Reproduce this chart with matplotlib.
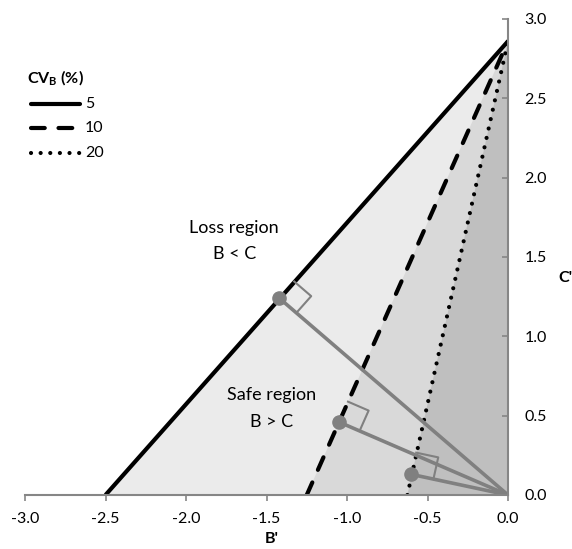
import numpy as np
import matplotlib
matplotlib.use('Agg')
import matplotlib.pyplot as plt
from matplotlib.lines import Line2D

plt.rcParams['font.family'] = ['Lato', 'DejaVu Sans']
plt.rcParams['mathtext.fontset'] = 'custom'
plt.rcParams['mathtext.rm'] = 'Lato'
plt.rcParams['mathtext.bf'] = 'Lato:bold'

# chart data
cv_labels = ['5', '10', '20']
b_intercept = [-2.5, -1.25, -0.625]     # where each line meets C'=0
c_intercept = [2.86, 2.86, 2.86]        # where each line meets B'=0
foot_b = [-1.42, -1.05, -0.60]          # perpendicular foot points
foot_c = [1.24, 0.46, 0.13]
x_ticks = [-3.0, -2.5, -2.0, -1.5, -1.0, -0.5, 0.0]
y_ticks = [0.0, 0.5, 1.0, 1.5, 2.0, 2.5, 3.0]

fill_colors = ['#ebebeb', '#d9d9d9', '#bfbfbf']
line_styles = ['-', (0, (3.3, 3.3)), (0, (0.01, 2.3))]
gray = '#808080'

fig = plt.figure(figsize=(5.72, 5.49), dpi=100)
ax = fig.add_axes([25/572, 54/549, 483/572, 476/549])

# shaded triangles, widest first
for a, h, col in zip(b_intercept, c_intercept, fill_colors):
    ax.fill([a, 0, 0], [0, h, 0], color=col, lw=0, zorder=1)

for a, h, ls in zip(b_intercept, c_intercept, line_styles):
    ax.plot([a, 0], [0, h], color='black', lw=3, ls=ls,
            dash_capstyle='round', solid_capstyle='butt', zorder=3)

# perpendiculars from the origin with right angle marks
s = 0.14
for a, h, fb, fc in zip(b_intercept, c_intercept, foot_b, foot_c):
    ax.plot([fb, 0], [fc, 0], color=gray, lw=2.6, zorder=4)
    u = np.array([-a, h]) / np.hypot(a, h)
    v = -np.array([fb, fc]) / np.hypot(fb, fc)
    f = np.array([fb, fc])
    pts = np.array([f + s*u, f + s*u + s*v, f + s*v])
    ax.plot(pts[:, 0], pts[:, 1], color=gray, lw=1.5, zorder=4)
    ax.plot(fb, fc, 'o', color=gray, ms=9.5, zorder=5)

ax.text(-1.7, 1.68, 'Loss region', ha='center', va='center', fontsize=13)
ax.text(-1.7, 1.52, 'B < C', ha='center', va='center', fontsize=13)
ax.text(-1.47, 0.63, 'Safe region', ha='center', va='center', fontsize=13)
ax.text(-1.47, 0.46, 'B > C', ha='center', va='center', fontsize=13)

ax.set_xlim(-3.0, 0.0)
ax.set_ylim(0.0, 3.0)
ax.set_xticks(x_ticks)
ax.set_yticks(y_ticks)
ax.set_xticklabels(['%.1f' % t for t in x_ticks])
ax.set_yticklabels(['%.1f' % t for t in y_ticks])

for side in ['top', 'left']:
    ax.spines[side].set_visible(False)
for side in ['bottom', 'right']:
    ax.spines[side].set_color('#868686')
    ax.spines[side].set_linewidth(1.5)
    ax.spines[side].set_zorder(6)

ax.yaxis.tick_right()
ax.yaxis.set_label_position('right')
ax.tick_params(axis='x', direction='out', length=4, width=1.2, color='#868686',
               labelsize=11.5, pad=8)
ax.tick_params(axis='y', direction='in', length=4, width=1.2, color='#868686',
               labelsize=11.5, pad=12)

ax.set_xlabel("B'", fontsize=11.5, fontweight='bold')
ax.xaxis.set_label_coords(0.51, -0.078)
ax.set_ylabel("C'", fontsize=11.5, fontweight='bold', rotation=0, va='center')
ax.yaxis.set_label_coords(1.118, 0.455)

# hand drawn legend in the upper left
W, H = 572.0, 549.0
fig.text(27/W, 1-78/H, r'$\mathbf{CV_B}$' + ' (%)', fontsize=11.5,
         fontweight='bold', va='center', ha='left')
leg_y = [104, 128, 153]
for lab, ls, y in zip(cv_labels, line_styles, leg_y):
    fig.add_artist(Line2D([31/W, 80/W], [1-y/H, 1-y/H], color='black', lw=3,
                          ls=ls, dash_capstyle='round', solid_capstyle='round'))
    fig.text(85/W, 1-y/H, lab, fontsize=11.5, va='center', ha='left')

fig.savefig('out.png', dpi=100)
